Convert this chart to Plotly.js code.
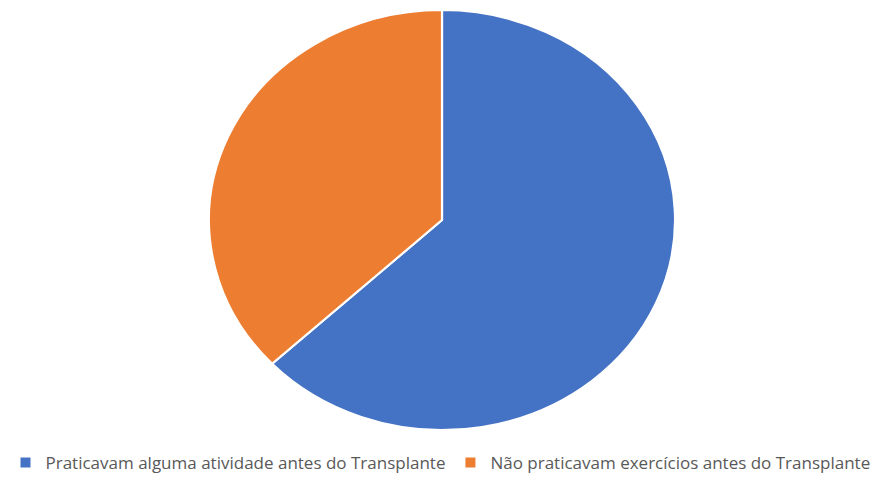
<!DOCTYPE html>
<html>
<head>
<meta charset="utf-8">
<script src="https://cdn.plot.ly/plotly-3.0.1.min.js"></script>
<style>html,body{margin:0;padding:0;background:#fff;}#chart{width:881px;height:481px;}</style>
</head>
<body>
<div id="chart"></div>
<script>
const labels = ["Praticavam alguma atividade antes do Transplante", "Não praticavam exercícios antes do Transplante"];
const values = [63, 37];
const colors = ["#4472C4", "#ED7D31"];

const data = [{
  type: "pie",
  labels: labels,
  values: values,
  sort: false,
  direction: "clockwise",
  rotation: 0,
  textinfo: "none",
  hoverinfo: "label+percent",
  marker: {colors: colors, line: {color: "#ffffff", width: 2}},
  domain: {x: [0.2633, 0.7401], y: [0.106, 0.979]}
}];

const layout = {
  width: 881,
  height: 481,
  margin: {l: 0, r: 0, t: 0, b: 0},
  paper_bgcolor: "#ffffff",
  showlegend: true,
  legend: {
    orientation: "h",
    x: 0.5, xanchor: "center",
    y: 0.0, yanchor: "bottom",
    font: {family: "Open Sans, Liberation Sans, sans-serif", size: 17, color: "#595959"},
    itemwidth: 30,
    traceorder: "normal"
  },
  font: {family: "Open Sans, sans-serif"}
};

Plotly.newPlot("chart", data, layout, {staticPlot: true}).then(function(){
  const g = document.querySelector("#chart .pielayer");
  if (g) g.setAttribute("transform", "translate(442,0) scale(1.11,1) translate(-442,0)");
});
</script>
</body>
</html>
